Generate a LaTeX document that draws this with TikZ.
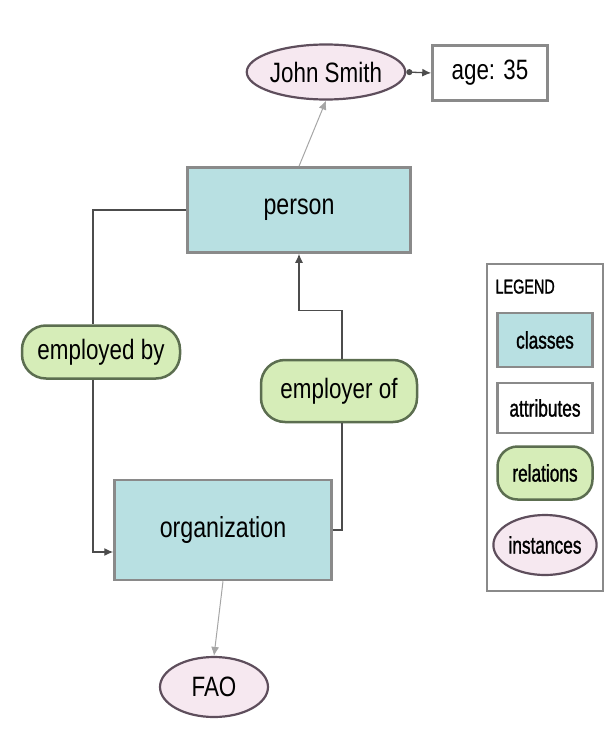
\documentclass[tikz,border=0pt]{standalone}
\usepackage{fontspec}
\setmainfont[FakeStretch=0.8]{Liberation Sans}
\newfontfamily\legfont[FakeStretch=0.72,FakeBold=1.2]{Liberation Sans}
\usepackage{tikz}
\usetikzlibrary{arrows,arrows.meta,shapes,calc}
\definecolor{classfill}{HTML}{B8E0E2}
\definecolor{relfill}{HTML}{D6EDB8}
\definecolor{instfill}{HTML}{F6E8F0}
\definecolor{boxline}{HTML}{8A8A8A}
\definecolor{instline}{HTML}{5E4E5C}
\definecolor{relline}{HTML}{5C6E50}

\begin{document}
\begin{tikzpicture}[x=1pt,y=-1pt,
  class/.style={draw=boxline,fill=classfill,line width=2.5pt,inner sep=0pt,font=\fontsize{29}{30}\selectfont},
  attr/.style={draw=boxline,fill=white,line width=2.5pt,inner sep=0pt,font=\fontsize{28}{30}\selectfont},
  rel/.style={draw=relline,fill=relfill,line width=2.5pt,rounded corners=24pt,inner sep=0pt,font=\fontsize{28}{30}\selectfont},
  inst/.style={ellipse,draw=instline,fill=instfill,line width=2.2pt,inner sep=0pt,font=\fontsize{28}{30}\selectfont},
  link/.style={draw=black!70,line width=1.3pt},
  faint/.style={draw=black!35,line width=1pt},
  tip/.style={-{Latex[length=9pt,width=8pt]}},
  legtext/.style={font=\legfont\fontsize{24}{26}\selectfont}]
\useasboundingbox (0,0) rectangle (609,749);

% instances and attribute
\node[inst,minimum width=137,minimum height=55] (john) at (326,72) {John Smith};
\node[attr,minimum width=115,minimum height=55] (age) at (490,73) {age: 35};
\node[inst,minimum width=108,minimum height=60] (fao) at (214,687) {FAO};

% classes
\node[class,minimum width=223,minimum height=85] (person) at (299,210) {person};
\node[class,minimum width=217,minimum height=100] (org) at (223,530) {organization};

% relations
\node[rel,minimum width=158,minimum height=53] (empby) at (101,352) {employed by};
\node[rel,minimum width=156,minimum height=62] (empof) at (339,391) {employer of};

% connectors
\draw[faint,tip] (person.north) -- (john.south);
\draw[link,{Circle[length=6pt]}-{Latex[length=9pt,width=8pt]}] (john.east) -- (age.west);
\draw[link] (person.west) -| ([xshift=-8]empby.north);
\draw[link,tip] ([xshift=-8]empby.south) |- ([yshift=-22]org.west);
\draw[link] (org.east) -| ([xshift=3]empof.south);
\draw[link,tip] ([xshift=3]empof.north) -- ++(0,-48) -| (person.south);
\draw[faint,tip] (org.south) -- (fao.north);

% legend
\node[draw=boxline,line width=2pt,minimum width=116,minimum height=327,inner sep=0pt] (legend) at (545,427) {};
\node[anchor=north west,font=\legfont\fontsize{20}{22}\selectfont] (legtitle) at (492,276) {LEGEND};
\node[class,legtext,minimum width=95,minimum height=54] (lclass) at (545,340) {classes};
\node[attr,legtext,minimum width=95,minimum height=50] (lattr) at (545,408) {attributes};
\node[rel,legtext,rounded corners=20pt,minimum width=95,minimum height=53] (lrel) at (545,473) {relations};
\node[inst,legtext,minimum width=99,minimum height=60] (linst) at (545,545) {instances};
\end{tikzpicture}
\end{document}
